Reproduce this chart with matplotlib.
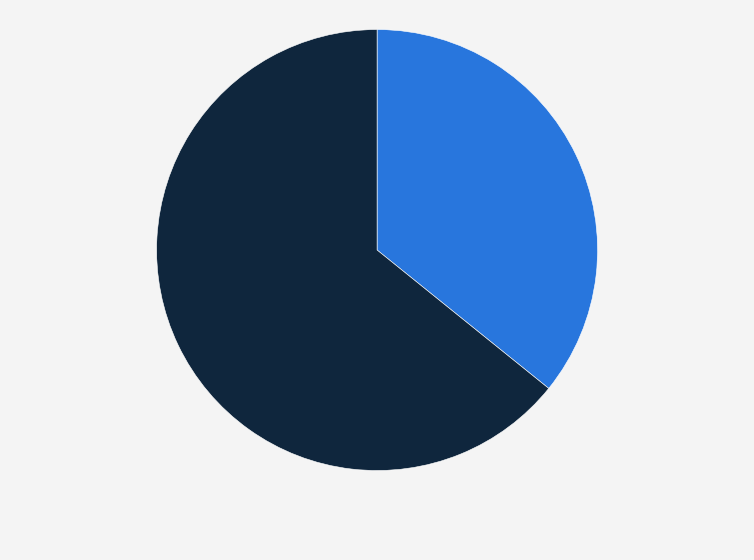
import matplotlib
matplotlib.use('Agg')
import matplotlib.pyplot as plt

# ── Data ──────────────────────────────────────────────────────────────────────
labels = ['Share A', 'Share B']
shares = [35.8, 64.2]
colors = ['#2876dd', '#0f263d']

BG = '#f4f4f4'

# ── Plot ──────────────────────────────────────────────────────────────────────
fig = plt.figure(figsize=(7.54, 5.60), dpi=100, facecolor=BG)
ax = fig.add_axes([0.2076, 0.1598, 0.585, 0.7875])
ax.set_facecolor(BG)

ax.pie(shares, colors=colors, startangle=90, counterclock=False,
       wedgeprops=dict(edgecolor='#ffffff', linewidth=0.4, alpha=1.0))
ax.set_aspect('equal')
ax.set_xlim(-1.0, 1.0)
ax.set_ylim(-1.0, 1.0)
ax.axis('off')

fig.savefig('out.png', dpi=100, facecolor=BG)
